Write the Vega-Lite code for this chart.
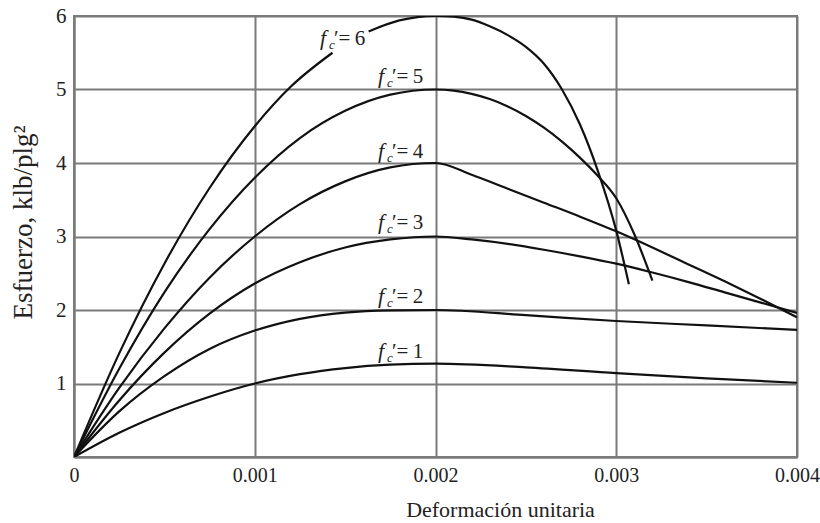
{
  "$schema": "https://vega.github.io/schema/vega-lite/v6.json",
  "autosize": {"type": "none"},
  "padding": {"left": 74, "top": 16, "right": 23, "bottom": 66},
  "width": 723,
  "height": 441,
  "background": "white",
  "config": {
    "view": {"stroke": "#7a7a7a", "strokeWidth": 2},
    "font": "Liberation Serif",
    "axis": {
      "grid": true,
      "gridColor": "#7a7a7a",
      "gridWidth": 2,
      "gridOpacity": 1,
      "domainColor": "#7a7a7a",
      "domainWidth": 2,
      "ticks": false,
      "tickSize": 0,
      "labelFont": "Liberation Serif",
      "labelFontSize": 20,
      "labelColor": "#222",
      "titleFont": "Liberation Serif",
      "titleFontWeight": "normal",
      "titleColor": "#222"
    }
  },
  "datasets": {
    "curvas": [
      {"tramo": "1", "e": 0, "s": 0},
      {"tramo": "1", "e": 0.00025, "s": 0.33},
      {"tramo": "1", "e": 0.0005, "s": 0.6},
      {"tramo": "1", "e": 0.00075, "s": 0.82},
      {"tramo": "1", "e": 0.001, "s": 1.0},
      {"tramo": "1", "e": 0.00125, "s": 1.127},
      {"tramo": "1", "e": 0.0015, "s": 1.21},
      {"tramo": "1", "e": 0.00175, "s": 1.256},
      {"tramo": "1", "e": 0.002, "s": 1.27},
      {"tramo": "1", "e": 0.0025, "s": 1.22},
      {"tramo": "1", "e": 0.003, "s": 1.14},
      {"tramo": "1", "e": 0.0035, "s": 1.07},
      {"tramo": "1", "e": 0.004, "s": 1.01},

      {"tramo": "2", "e": 0, "s": 0},
      {"tramo": "2", "e": 0.00025, "s": 0.62},
      {"tramo": "2", "e": 0.0005, "s": 1.1},
      {"tramo": "2", "e": 0.00075, "s": 1.47},
      {"tramo": "2", "e": 0.001, "s": 1.72},
      {"tramo": "2", "e": 0.00125, "s": 1.88},
      {"tramo": "2", "e": 0.0015, "s": 1.965},
      {"tramo": "2", "e": 0.00175, "s": 1.995},
      {"tramo": "2", "e": 0.002, "s": 2.0},
      {"tramo": "2", "e": 0.0025, "s": 1.93},
      {"tramo": "2", "e": 0.003, "s": 1.85},
      {"tramo": "2", "e": 0.0035, "s": 1.79},
      {"tramo": "2", "e": 0.004, "s": 1.73},

      {"tramo": "3", "e": 0, "s": 0},
      {"tramo": "3", "e": 0.00025, "s": 0.77},
      {"tramo": "3", "e": 0.0005, "s": 1.42},
      {"tramo": "3", "e": 0.00075, "s": 1.95},
      {"tramo": "3", "e": 0.001, "s": 2.36},
      {"tramo": "3", "e": 0.00125, "s": 2.65},
      {"tramo": "3", "e": 0.0015, "s": 2.85},
      {"tramo": "3", "e": 0.00175, "s": 2.96},
      {"tramo": "3", "e": 0.002, "s": 3.0},
      {"tramo": "3", "e": 0.0022, "s": 2.96},
      {"tramo": "3", "e": 0.0024, "s": 2.9},
      {"tramo": "3", "e": 0.0026, "s": 2.82},
      {"tramo": "3", "e": 0.0028, "s": 2.73},
      {"tramo": "3", "e": 0.003, "s": 2.63},
      {"tramo": "3", "e": 0.0032, "s": 2.51},
      {"tramo": "3", "e": 0.0034, "s": 2.38},
      {"tramo": "3", "e": 0.0036, "s": 2.24},
      {"tramo": "3", "e": 0.0038, "s": 2.1},
      {"tramo": "3", "e": 0.004, "s": 1.96},

      {"tramo": "4", "e": 0, "s": 0},
      {"tramo": "4", "e": 0.00025, "s": 0.94},
      {"tramo": "4", "e": 0.0005, "s": 1.75},
      {"tramo": "4", "e": 0.00075, "s": 2.44},
      {"tramo": "4", "e": 0.001, "s": 3.0},
      {"tramo": "4", "e": 0.00125, "s": 3.44},
      {"tramo": "4", "e": 0.0015, "s": 3.75},
      {"tramo": "4", "e": 0.00175, "s": 3.94},
      {"tramo": "4", "e": 0.002, "s": 4.0},
      {"tramo": "4", "e": 0.0022, "s": 3.84},
      {"tramo": "4", "e": 0.0024, "s": 3.65},
      {"tramo": "4", "e": 0.0026, "s": 3.46},
      {"tramo": "4", "e": 0.0028, "s": 3.27},
      {"tramo": "4", "e": 0.003, "s": 3.07},
      {"tramo": "4", "e": 0.0032, "s": 2.85},
      {"tramo": "4", "e": 0.0034, "s": 2.62},
      {"tramo": "4", "e": 0.0036, "s": 2.39},
      {"tramo": "4", "e": 0.0038, "s": 2.15},
      {"tramo": "4", "e": 0.004, "s": 1.9},

      {"tramo": "5", "e": 0, "s": 0},
      {"tramo": "5", "e": 0.00025, "s": 1.2},
      {"tramo": "5", "e": 0.0005, "s": 2.24},
      {"tramo": "5", "e": 0.00075, "s": 3.1},
      {"tramo": "5", "e": 0.001, "s": 3.8},
      {"tramo": "5", "e": 0.00125, "s": 4.34},
      {"tramo": "5", "e": 0.0015, "s": 4.71},
      {"tramo": "5", "e": 0.00175, "s": 4.93},
      {"tramo": "5", "e": 0.002, "s": 5.0},
      {"tramo": "5", "e": 0.0021, "s": 4.985},
      {"tramo": "5", "e": 0.0022, "s": 4.94},
      {"tramo": "5", "e": 0.0023, "s": 4.87},
      {"tramo": "5", "e": 0.0024, "s": 4.77},
      {"tramo": "5", "e": 0.0025, "s": 4.64},
      {"tramo": "5", "e": 0.0026, "s": 4.48},
      {"tramo": "5", "e": 0.0027, "s": 4.29},
      {"tramo": "5", "e": 0.0028, "s": 4.07},
      {"tramo": "5", "e": 0.0029, "s": 3.82},
      {"tramo": "5", "e": 0.003, "s": 3.52},
      {"tramo": "5", "e": 0.0031, "s": 3.03},
      {"tramo": "5", "e": 0.0032, "s": 2.4},

      {"tramo": "6a", "e": 0, "s": 0},
      {"tramo": "6a", "e": 0.00025, "s": 1.41},
      {"tramo": "6a", "e": 0.0005, "s": 2.63},
      {"tramo": "6a", "e": 0.00075, "s": 3.66},
      {"tramo": "6a", "e": 0.001, "s": 4.5},
      {"tramo": "6a", "e": 0.0012, "s": 5.04},
      {"tramo": "6a", "e": 0.00143, "s": 5.5},

      {"tramo": "6b", "e": 0.00163, "s": 5.79},
      {"tramo": "6b", "e": 0.0018, "s": 5.94},
      {"tramo": "6b", "e": 0.0019, "s": 5.985},
      {"tramo": "6b", "e": 0.002, "s": 6.0},
      {"tramo": "6b", "e": 0.0021, "s": 5.99},
      {"tramo": "6b", "e": 0.0022, "s": 5.95},
      {"tramo": "6b", "e": 0.0023, "s": 5.86},
      {"tramo": "6b", "e": 0.0024, "s": 5.74},
      {"tramo": "6b", "e": 0.0025, "s": 5.58},
      {"tramo": "6b", "e": 0.0026, "s": 5.35},
      {"tramo": "6b", "e": 0.0027, "s": 5.0},
      {"tramo": "6b", "e": 0.0028, "s": 4.52},
      {"tramo": "6b", "e": 0.0029, "s": 3.88},
      {"tramo": "6b", "e": 0.003, "s": 3.08},
      {"tramo": "6b", "e": 0.00307, "s": 2.35}
    ],
    "etiquetas": [
      {"e": 0.001361, "s": 5.61, "t": "′=\u20096"},
      {"e": 0.001682, "s": 5.09, "t": "′=\u20095"},
      {"e": 0.001682, "s": 4.07, "t": "′=\u20094"},
      {"e": 0.001682, "s": 3.10, "t": "′=\u20093"},
      {"e": 0.001682, "s": 2.10, "t": "′=\u20092"},
      {"e": 0.001682, "s": 1.35, "t": "′=\u20091"}
    ]
  },
  "encoding": {
    "x": {
      "field": "e", "type": "quantitative",
      "scale": {"domain": [0, 0.004], "nice": false, "zero": false},
      "axis": {
        "values": [0, 0.001, 0.002, 0.003, 0.004],
        "labelExpr": "datum.value == 0 ? '0' : format(datum.value, '.3f')",
        "labelPadding": 8,
        "labelFlush": false,
        "title": "Deformación unitaria",
        "titleFontSize": 22,
        "titleX": 426,
        "titleY": 42,
        "titleBaseline": "top",
        "titleAlign": "center"
      }
    },
    "y": {
      "field": "s", "type": "quantitative",
      "scale": {"domain": [0, 6], "nice": false},
      "axis": {
        "values": [0, 1, 2, 3, 4, 5, 6],
        "labelExpr": "datum.value == 0 ? '' : datum.label",
        "labelPadding": 8,
        "labelFontSize": 21,
        "title": "Esfuerzo, klb/plg²",
        "titleFontSize": 27,
        "titleAngle": -90,
        "titleX": -37,
        "titleY": 206,
        "titleBaseline": "bottom",
        "titleAlign": "center"
      }
    }
  },
  "layer": [
    {
      "data": {"name": "curvas"},
      "mark": {"type": "line", "color": "#111", "strokeWidth": 2.2, "interpolate": "monotone", "clip": true},
      "encoding": {"detail": {"field": "tramo", "type": "nominal"}}
    },
    {
      "data": {"name": "etiquetas"},
      "mark": {"type": "text", "text": "f", "font": "Liberation Serif", "fontStyle": "italic", "fontSize": 22, "align": "left", "baseline": "alphabetic", "color": "#222"}
    },
    {
      "data": {"name": "etiquetas"},
      "mark": {"type": "text", "text": "c", "font": "Liberation Serif", "fontStyle": "italic", "fontSize": 13, "align": "left", "baseline": "alphabetic", "dx": 9, "dy": 4, "color": "#222"}
    },
    {
      "data": {"name": "etiquetas"},
      "mark": {"type": "text", "font": "Liberation Serif", "fontSize": 21, "align": "left", "baseline": "alphabetic", "dx": 14, "color": "#222"},
      "encoding": {"text": {"field": "t", "type": "nominal"}}
    }
  ]
}
